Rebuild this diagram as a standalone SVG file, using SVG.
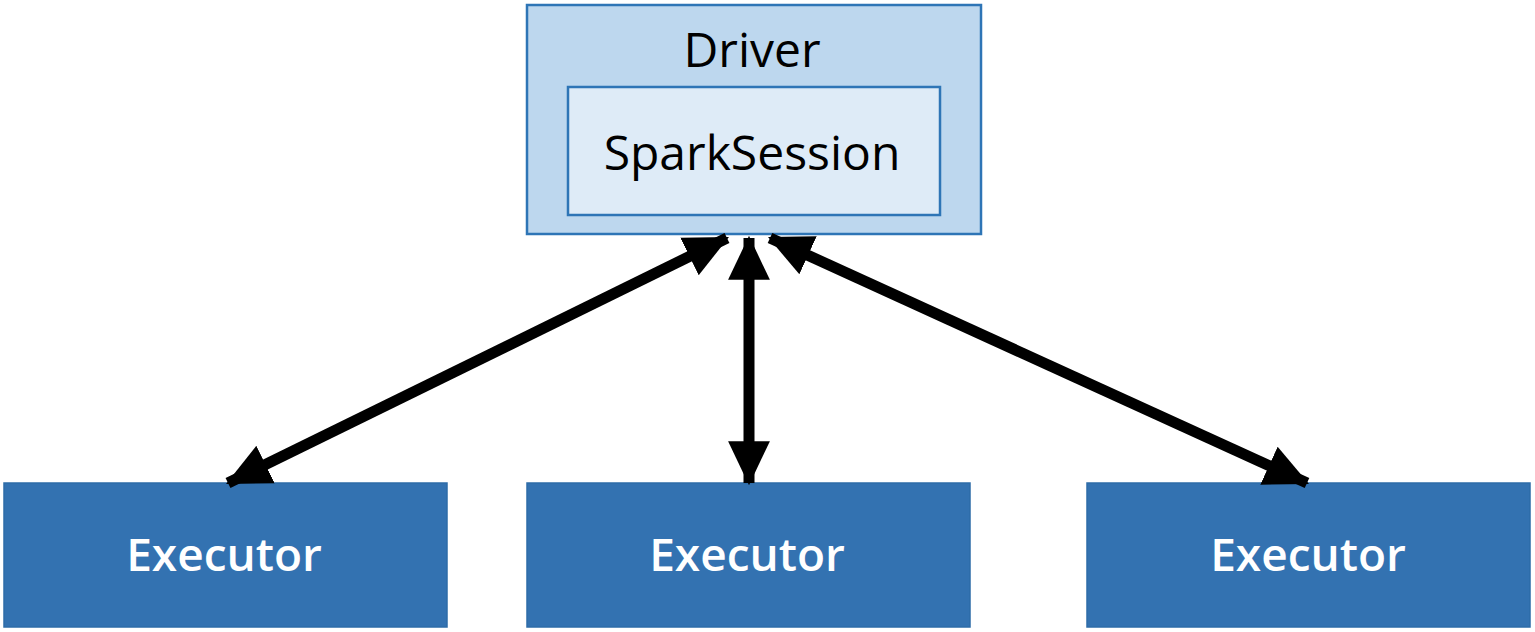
<svg xmlns="http://www.w3.org/2000/svg" width="1535" height="632" viewBox="0 0 1535 632">
<style>
.outer{fill:#BDD7EE;stroke:#2E75B6;stroke-width:2.5}
.inner{fill:#DEEBF7;stroke:#2E75B6;stroke-width:2.5}
.exec{fill:#3372B1;stroke:#2E6CA8;stroke-width:1.5}
.dark{font-family:"Open Sans","Lato",sans-serif;fill:#000;text-anchor:middle;font-size:48px;font-weight:500}
.light{font-family:"Open Sans","Lato",sans-serif;fill:#fff;text-anchor:middle;font-size:46px;font-weight:600}
.conn{stroke:#000;stroke-width:11;fill:none}
</style>
<defs>
<marker id="ah" markerUnits="userSpaceOnUse" markerWidth="44" markerHeight="44" viewBox="0 0 40 38" refX="38" refY="19" orient="auto-start-reverse">
<path d="M0,0 L40,19 L0,38 z" fill="#000"/>
</marker>
</defs>
<rect width="1535" height="632" fill="#fff"/>
<g id="driver">
<rect class="outer" x="527" y="5" width="454" height="229"/>
<text class="dark" x="752" y="67">Driver</text>
</g>
<g id="sparksession">
<rect class="inner" x="568" y="87" width="372" height="128"/>
<text class="dark" x="752" y="170">SparkSession</text>
</g>
<g id="executor1">
<rect class="exec" x="4" y="483" width="443" height="144"/>
<text class="light" x="224" y="571">Executor</text>
</g>
<g id="executor2">
<rect class="exec" x="527" y="483" width="443" height="144"/>
<text class="light" x="747" y="571">Executor</text>
</g>
<g id="executor3">
<rect class="exec" x="1087" y="483" width="443" height="144"/>
<text class="light" x="1308" y="571">Executor</text>
</g>
<g id="connectors">
<line class="conn" x1="727" y1="238" x2="228" y2="483" marker-start="url(#ah)" marker-end="url(#ah)"/>
<line class="conn" x1="749" y1="238" x2="749" y2="483" marker-start="url(#ah)" marker-end="url(#ah)"/>
<line class="conn" x1="770" y1="238" x2="1307" y2="483" marker-start="url(#ah)" marker-end="url(#ah)"/>
</g>
</svg>
